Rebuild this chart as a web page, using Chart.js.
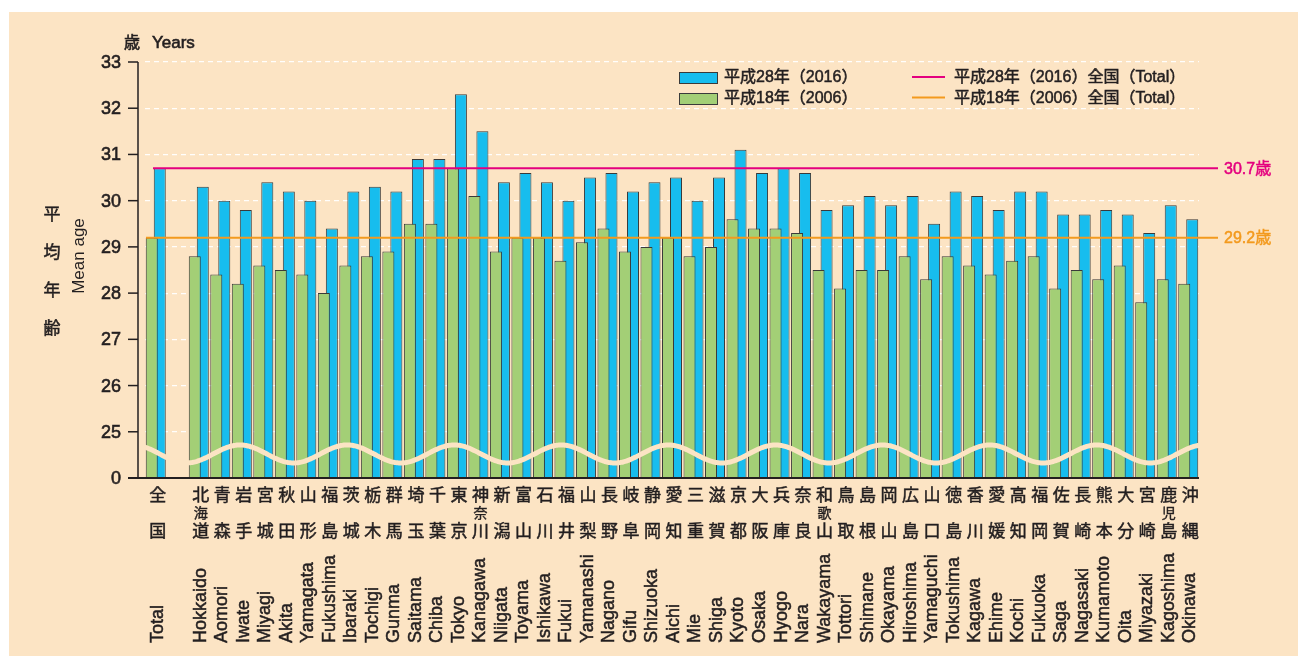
<!DOCTYPE html>
<html>
<head>
<meta charset="utf-8">
<script src="https://cdn.jsdelivr.net/npm/chart.js@4"></script>
<style>
    html, body { margin: 0; padding: 0; background: #fff; }
    #wrap { width: 1298px; height: 656px; position: relative; }
</style>
</head>
<body>
<div id="wrap"><canvas id="ageChart" width="1298" height="656"></canvas></div>
<script>
// 都道府県別 平均初婚年齢（妻）データ
const labelsEn = ['Total', '', 'Hokkaido', 'Aomori', 'Iwate', 'Miyagi', 'Akita', 'Yamagata', 'Fukushima',
    'Ibaraki', 'Tochigi', 'Gunma', 'Saitama', 'Chiba', 'Tokyo', 'Kanagawa', 'Niigata', 'Toyama',
    'Ishikawa', 'Fukui', 'Yamanashi', 'Nagano', 'Gifu', 'Shizuoka', 'Aichi', 'Mie', 'Shiga', 'Kyoto',
    'Osaka', 'Hyogo', 'Nara', 'Wakayama', 'Tottori', 'Shimane', 'Okayama', 'Hiroshima', 'Yamaguchi',
    'Tokushima', 'Kagawa', 'Ehime', 'Kochi', 'Fukuoka', 'Saga', 'Nagasaki', 'Kumamoto', 'Oita',
    'Miyazaki', 'Kagoshima', 'Okinawa'];
const labelsJa = ['全国', '', '北海道', '青森', '岩手', '宮城', '秋田', '山形', '福島', '茨城', '栃木', '群馬',
    '埼玉', '千葉', '東京', '神奈川', '新潟', '富山', '石川', '福井', '山梨', '長野', '岐阜', '静岡', '愛知',
    '三重', '滋賀', '京都', '大阪', '兵庫', '奈良', '和歌山', '鳥取', '島根', '岡山', '広島', '山口', '徳島',
    '香川', '愛媛', '高知', '福岡', '佐賀', '長崎', '熊本', '大分', '宮崎', '鹿児島', '沖縄'];
const age2016 = [30.7, null, 30.3, 30.0, 29.8, 30.4, 30.2, 30.0, 29.4, 30.2, 30.3, 30.2, 30.9, 30.9, 32.3,
    31.5, 30.4, 30.6, 30.4, 30.0, 30.5, 30.6, 30.2, 30.4, 30.5, 30.0, 30.5, 31.1, 30.6, 30.7, 30.6, 29.8,
    29.9, 30.1, 29.9, 30.1, 29.5, 30.2, 30.1, 29.8, 30.2, 30.2, 29.7, 29.7, 29.8, 29.7, 29.3, 29.9, 29.6];
const age2006 = [29.2, null, 28.8, 28.4, 28.2, 28.6, 28.5, 28.4, 28.0, 28.6, 28.8, 28.9, 29.5, 29.5, 30.7,
    30.1, 28.9, 29.2, 29.2, 28.7, 29.1, 29.4, 28.9, 29.0, 29.2, 28.8, 29.0, 29.6, 29.4, 29.4, 29.3, 28.5,
    28.1, 28.5, 28.5, 28.8, 28.3, 28.8, 28.6, 28.4, 28.7, 28.8, 28.1, 28.5, 28.3, 28.6, 27.8, 28.3, 28.2];
const seriesNames = ['平成18年（2006）', '平成28年（2016）'];
const totalNames = ['平成28年（2016）全国（Total）', '平成18年（2006）全国（Total）'];
const totalValues = [30.7, 29.2];
const totalLabels = ['30.7歳', '29.2歳'];
// 縦軸 24 を「0」として表示（省略記号付き）
const yMin = 24, yMax = 33, yBreakLabel = '0';

const BG = '#fce4c4';
const INK = '#231f20';
const BLUE = '#17bdee';
const GREEN = '#a3cf76';
const PINK = '#e4007f';
const ORANGE = '#f39a1e';
const LATIN = '"Liberation Sans", "Noto Sans CJK JP", sans-serif';
const CJK = '"Noto Sans CJK JP", "Liberation Sans", sans-serif';

// 少し太めに見せる文字描画
function text(c, str, x, y, stroke) {
    c.fillText(str, x, y);
    if (stroke) {
        c.lineWidth = stroke;
        c.strokeStyle = c.fillStyle;
        c.strokeText(str, x, y);
    }
}

// 背景パネル
const panelPlugin = {
    id: 'panel',
    beforeDraw(chart) {
        const c = chart.ctx;
        c.save();
        c.fillStyle = '#fff';
        c.fillRect(0, 0, chart.width, chart.height);
        c.fillStyle = BG;
        c.fillRect(9, 12, chart.width - 9, chart.height - 12);
        c.restore();
    }
};

// 軸・波線・全国線・ラベル・凡例
const decoPlugin = {
    id: 'deco',
    afterDatasetsDraw(chart) {
        const c = chart.ctx;
        const x = chart.scales.x;
        const y = chart.scales.y;
        const area = chart.chartArea;
        const axisX = area.left - 7;
        const bottom = y.getPixelForValue(yMin);
        c.save();

        // 省略の波線
        const yc = y.getPixelForValue(24.52);
        c.strokeStyle = BG;
        c.lineWidth = 5;
        c.beginPath();
        for (let px = axisX + 1; px <= area.right; px += 1) {
            const py = yc - 9 * Math.cos(2 * Math.PI * (px - 240) / 107.1);
            if (px === axisX + 1) c.moveTo(px, py); else c.lineTo(px, py);
        }
        c.stroke();

        // 全国平均線
        const lineColors = [PINK, ORANGE];
        const lineStart = [area.left + 8, area.left + 1];
        totalValues.forEach((v, i) => {
            const py = y.getPixelForValue(v);
            c.strokeStyle = lineColors[i];
            c.lineWidth = 2;
            c.beginPath();
            c.moveTo(lineStart[i], py);
            c.lineTo(1218, py);
            c.stroke();
            c.fillStyle = lineColors[i];
            c.font = '16px ' + LATIN;
            c.textAlign = 'left';
            c.textBaseline = 'middle';
            text(c, totalLabels[i], 1224, py + 1, 0.5);
        });

        // 軸線と目盛り
        c.strokeStyle = INK;
        c.lineWidth = 1.5;
        c.beginPath();
        c.moveTo(axisX, y.getPixelForValue(yMax));
        c.lineTo(axisX, bottom);
        c.stroke();
        c.fillStyle = INK;
        c.font = '18px ' + LATIN;
        c.textAlign = 'right';
        c.textBaseline = 'middle';
        y.ticks.forEach(t => {
            const py = y.getPixelForValue(t.value);
            c.strokeStyle = INK;
            c.lineWidth = 1.5;
            c.beginPath();
            c.moveTo(axisX - 10, py);
            c.lineTo(axisX, py);
            c.stroke();
            text(c, t.value === yMin ? yBreakLabel : String(t.value), 121, py + 1, 0.6);
        });
        c.strokeStyle = INK;
        c.lineWidth = 2;
        c.beginPath();
        c.moveTo(axisX - 10, bottom);
        c.lineTo(area.right, bottom);
        c.stroke();

        // 横軸ラベル（漢字・英語）
        c.fillStyle = INK;
        labelsEn.forEach((name, i) => {
            const cx = x.getPixelForValue(i) + 2;
            const ja = labelsJa[i];
            if (ja) {
                c.textAlign = 'center';
                c.textBaseline = 'middle';
                c.font = '17px ' + CJK;
                text(c, ja[0], cx, 495, 0.5);
                text(c, ja[ja.length - 1], cx, 531, 0.5);
                if (ja.length === 3) {
                    c.font = '14px ' + CJK;
                    text(c, ja[1], cx, 513, 0.4);
                }
            }
            if (name) {
                c.save();
                c.translate(cx, 643);
                c.rotate(-Math.PI / 2);
                c.font = '18px ' + LATIN;
                c.textAlign = 'left';
                c.textBaseline = 'middle';
                text(c, name, 0, 0, 0.5);
                c.restore();
            }
        });

        // 単位・軸タイトル
        c.textAlign = 'left';
        c.textBaseline = 'middle';
        c.font = '16px ' + CJK;
        text(c, '歳', 124, 42, 0.6);
        c.font = '17px ' + LATIN;
        text(c, 'Years', 152, 43, 0.6);
        c.textAlign = 'center';
        c.font = '17px ' + CJK;
        ['平', '均', '年', '齢'].forEach((ch, i) => text(c, ch, 52, 214 + i * 38, 0.5));
        c.save();
        c.translate(79, 256);
        c.rotate(-Math.PI / 2);
        c.font = '17px ' + LATIN;
        c.fillText('Mean age', 0, 0);
        c.restore();

        // 凡例
        c.textAlign = 'left';
        c.font = '16px ' + LATIN;
        [[BLUE, seriesNames[1], 72], [GREEN, seriesNames[0], 93]].forEach(([col, txt, top]) => {
            c.fillStyle = col;
            c.fillRect(679, top, 38, 11);
            c.strokeStyle = '#3a3a3a';
            c.lineWidth = 1;
            c.strokeRect(679.5, top + 0.5, 38, 11);
            c.fillStyle = INK;
            text(c, txt, 724, top + 6, 0.5);
        });
        [[PINK, totalNames[0], 77], [ORANGE, totalNames[1], 97.5]].forEach(([col, txt, py]) => {
            c.strokeStyle = col;
            c.lineWidth = 2;
            c.beginPath();
            c.moveTo(912, py);
            c.lineTo(945, py);
            c.stroke();
            c.fillStyle = INK;
            text(c, txt, 954, py + 1, 0.5);
        });
        c.restore();
    }
};

function createAgeChart() {
    const ctx = document.getElementById('ageChart');
    new Chart(ctx, {
        type: 'bar',
        data: {
            labels: labelsEn,
            datasets: [
                {
                    label: seriesNames[0],
                    data: age2006,
                    backgroundColor: GREEN,
                    borderColor: '#3a3a3a',
                    borderWidth: 1
                },
                {
                    label: seriesNames[1],
                    data: age2016,
                    backgroundColor: BLUE,
                    borderColor: '#3a3a3a',
                    borderWidth: 1
                }
            ]
        },
        options: {
            responsive: false,
            animation: false,
            categoryPercentage: 0.744,
            barPercentage: 1.5,
            layout: { padding: { top: 62, right: 99, left: 0, bottom: 0 } },
            plugins: {
                legend: { display: false },
                tooltip: { enabled: false }
            },
            scales: {
                x: {
                    offset: true,
                    grid: { display: false },
                    border: { display: false },
                    ticks: { display: false },
                    afterFit: function(scale) { scale.height = 178; }
                },
                y: {
                    min: yMin,
                    max: yMax,
                    afterFit: function(scale) { scale.width = 145; },
                    border: { display: false, dash: [5, 4] },
                    grid: {
                        color: 'rgba(255, 255, 255, 0.95)',
                        lineWidth: 1.2,
                        drawTicks: false
                    },
                    ticks: {
                        display: false,
                        stepSize: 1
                    }
                }
            }
        },
        plugins: [panelPlugin, decoPlugin]
    });
}

document.addEventListener('DOMContentLoaded', createAgeChart);
</script>
</body>
</html>
